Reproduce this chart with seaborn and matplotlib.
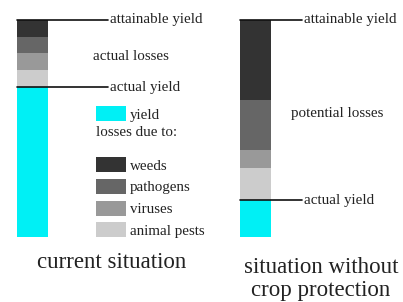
import pandas as pd
import matplotlib
matplotlib.use("Agg")
import matplotlib.pyplot as plt
import seaborn as sns
from matplotlib.patches import Patch

# share of attainable yield (%)
situations = ["current situation", "situation without\ncrop protection"]
yield_ = [69, 17]
animal_pests = [8, 15]
viruses = [8, 8]
pathogens = [7, 23]
weeds = [8, 37]

layer_names = ["weeds", "pathogens", "viruses", "animal pests"]
layer_colors = ["#333333", "#666666", "#999999", "#cccccc"]
yield_color = "#00f0f5"

df = pd.DataFrame({
    "situation": situations,
    "yield": yield_,
    "animal pests": animal_pests,
    "viruses": viruses,
    "pathogens": pathogens,
    "weeds": weeds,
})

sns.set_theme(style="white")
plt.rcParams["font.family"] = ["Liberation Serif", "DejaVu Serif"]

W, H = 403, 302
fig = plt.figure(figsize=(W / 100, H / 100), dpi=100)
ax = fig.add_axes([0, 0, 1, 1])

# stacked bars: draw cumulative totals from the top layer down
stack = ["yield", "animal pests", "viruses", "pathogens", "weeds"]
colors = {"yield": yield_color, "animal pests": "#cccccc", "viruses": "#999999",
          "pathogens": "#666666", "weeds": "#333333"}
for i in range(len(stack), 0, -1):
    df["top"] = df[stack[:i]].sum(axis=1)
    sns.barplot(data=df, x="situation", y="top", color=colors[stack[i - 1]],
                width=0.139, saturation=1, edgecolor="none", ax=ax)

ax.set_xlim(-0.1457, 1.661)
ax.set_ylim(-29.95, 109.2)
ax.axis("off")


def px(x):
    return x / W


def py(y):
    return 1 - y / H


tr = ax.get_yaxis_transform()
txt = "#222222"
fs = 10.8

total = df[stack].sum(axis=1)
# current situation
ax.plot([px(17), px(108)], [total[0], total[0]], transform=tr, color="#111111", lw=1.2)
ax.plot([px(17), px(108)], [yield_[0], yield_[0]], transform=tr, color="#111111", lw=1.2)
ax.text(px(110), total[0], "attainable yield", transform=tr, va="center", fontsize=fs, color=txt)
ax.text(px(110), yield_[0], "actual yield", transform=tr, va="center", fontsize=fs, color=txt)
ax.text(px(93), py(57), "actual losses", transform=ax.transAxes, va="center", fontsize=fs, color=txt)
# without protection
ax.plot([px(240), px(302)], [total[1], total[1]], transform=tr, color="#111111", lw=1.2)
ax.plot([px(240), px(302)], [yield_[1], yield_[1]], transform=tr, color="#111111", lw=1.2)
ax.text(px(304), total[1], "attainable yield", transform=tr, va="center", fontsize=fs, color=txt)
ax.text(px(304), yield_[1], "actual yield", transform=tr, va="center", fontsize=fs, color=txt)
ax.text(px(291), py(113), "potential losses", transform=ax.transAxes, va="center", fontsize=fs, color=txt)

# category captions
ax.text(px(112), py(263), situations[0], transform=ax.transAxes, ha="center", va="center",
        fontsize=16.5, color=txt)
ax.text(px(321), py(279), situations[1], transform=ax.transAxes, ha="center", va="center",
        fontsize=16.5, color=txt, linespacing=1.15)

# legends
leg1 = ax.legend(handles=[Patch(facecolor=yield_color, edgecolor="none", label="yield")],
                 loc="upper left", bbox_to_anchor=(px(96), py(106)), frameon=False,
                 fontsize=fs, handlelength=2.0, handleheight=1.15, handletextpad=0.25,
                 borderaxespad=0, borderpad=0, labelcolor=txt)
ax.add_artist(leg1)
ax.text(px(96), py(132), "losses due to:", transform=ax.transAxes, va="center",
        fontsize=fs, color=txt)
handles = [Patch(facecolor=c, edgecolor="none", label=n) for n, c in zip(layer_names, layer_colors)]
leg2 = ax.legend(handles=handles, loc="upper left",
                 bbox_to_anchor=(px(96), py(157)), frameon=False, fontsize=fs,
                 handlelength=2.0, handleheight=1.15, handletextpad=0.25,
                 labelspacing=0.42, borderaxespad=0, borderpad=0, labelcolor=txt)

fig.savefig("out.png", dpi=100, facecolor="white")
